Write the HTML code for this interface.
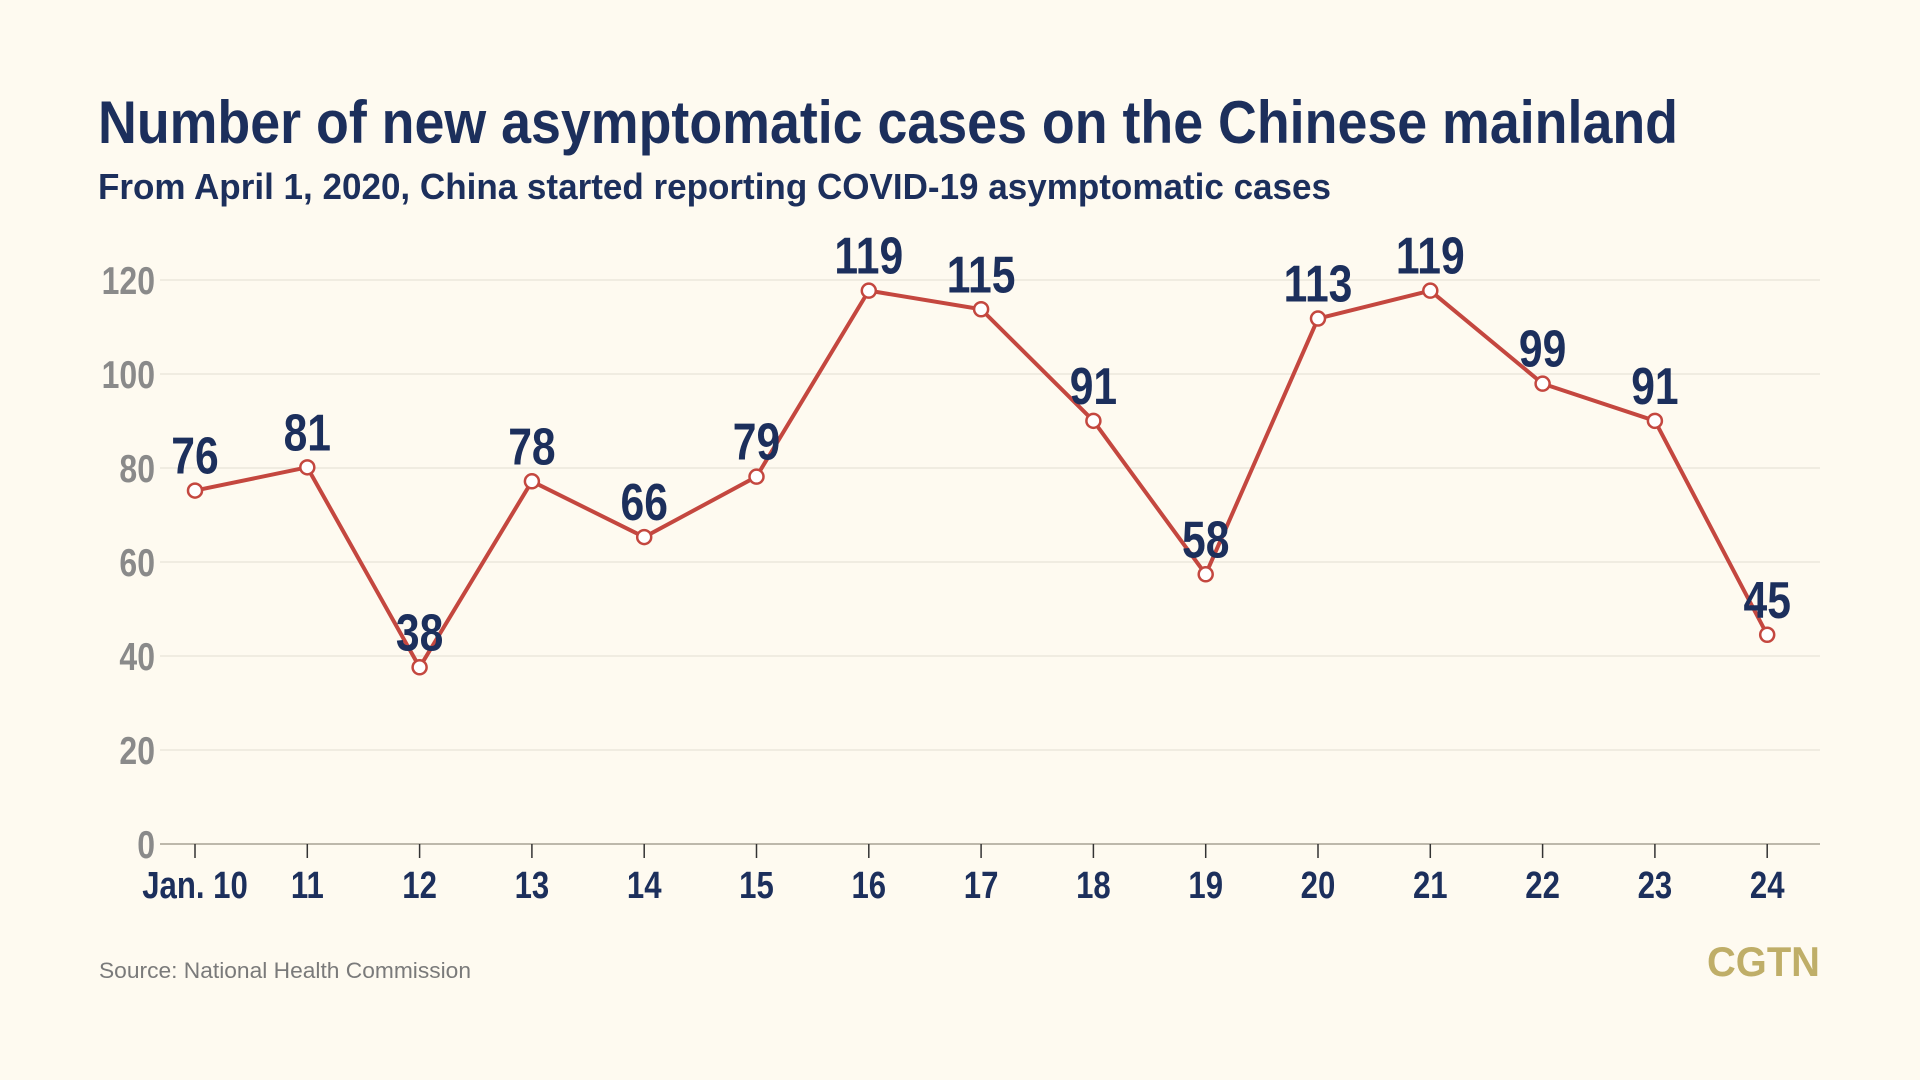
<!DOCTYPE html>
<html><head><meta charset="utf-8"><style>
html,body{margin:0;padding:0;background:#fefaf0;}
svg{display:block;font-family:"Liberation Sans",sans-serif;}
</style></head><body>
<svg width="1920" height="1080" viewBox="0 0 1920 1080" xmlns="http://www.w3.org/2000/svg">
<rect width="1920" height="1080" fill="#fefaf0"/>
<text x="98" y="143" font-size="60" font-weight="bold" fill="#1c2f5c" textLength="1580" lengthAdjust="spacingAndGlyphs">Number of new asymptomatic cases on the Chinese mainland</text>
<text x="98" y="199" font-size="36" font-weight="bold" fill="#1c2f5c" textLength="1233" lengthAdjust="spacingAndGlyphs">From April 1, 2020, China started reporting COVID-19 asymptomatic cases</text>
<g stroke="#ece8dc" stroke-width="1.5">
<line x1="160" x2="1820" y1="280" y2="280"/>
<line x1="160" x2="1820" y1="374" y2="374"/>
<line x1="160" x2="1820" y1="468" y2="468"/>
<line x1="160" x2="1820" y1="562" y2="562"/>
<line x1="160" x2="1820" y1="656" y2="656"/>
<line x1="160" x2="1820" y1="750" y2="750"/>
</g>
<line x1="160" x2="1820" y1="844" y2="844" stroke="#bdb8ab" stroke-width="2"/>
<g fill="#8a8a8a" font-size="39" text-anchor="end" font-weight="bold">
<g transform="translate(155,294) scale(0.82,1)"><text>120</text></g>
<g transform="translate(155,388) scale(0.82,1)"><text>100</text></g>
<g transform="translate(155,482) scale(0.82,1)"><text>80</text></g>
<g transform="translate(155,576) scale(0.82,1)"><text>60</text></g>
<g transform="translate(155,670) scale(0.82,1)"><text>40</text></g>
<g transform="translate(155,764) scale(0.82,1)"><text>20</text></g>
<g transform="translate(155,858) scale(0.82,1)"><text>0</text></g>
</g>
<g id="ticks" stroke="#333" stroke-width="1.5"></g>
<g id="xl" fill="#1c2f5c" font-size="38" font-weight="bold" text-anchor="middle"></g>
<polyline id="line" fill="none" stroke="#c4473f" stroke-width="4" stroke-linejoin="round"/>
<g id="pts" fill="#fff" stroke="#c4473f" stroke-width="2.5"></g>
<g id="dl" fill="#1c2f5c" font-size="52" font-weight="bold" text-anchor="middle"></g>
<text x="99" y="978" font-size="22" fill="#7a7a7a" textLength="372" lengthAdjust="spacingAndGlyphs">Source: National Health Commission</text>
<text x="1707" y="976" font-size="42" font-weight="bold" fill="#bfae68" textLength="113" lengthAdjust="spacingAndGlyphs">CGTN</text>
<script>
var v=[76,81,38,78,66,79,119,115,91,58,113,119,99,91,45];
var lab=["Jan. 10","11","12","13","14","15","16","17","18","19","20","21","22","23","24"];
var ns="http://www.w3.org/2000/svg";
function el(t,a,p){var e=document.createElementNS(ns,t);for(var k in a)e.setAttribute(k,a[k]);document.getElementById(p).appendChild(e);return e;}
var pts=[];
for(var i=0;i<15;i++){
 var x=195+i*112.3, y=844-v[i]*4.65;
 pts.push(x+","+y);
 el("line",{x1:x,x2:x,y1:844,y2:858},"ticks");
 var g=el("g",{transform:"translate("+x+",898) scale(0.82,1)"},"xl");
 var t=document.createElementNS(ns,"text");t.textContent=lab[i];g.appendChild(t);
 el("circle",{cx:x,cy:y,r:7},"pts");
 var g2=el("g",{transform:"translate("+x+","+(y-17)+") scale(0.82,1)"},"dl");
 var t2=document.createElementNS(ns,"text");t2.textContent=v[i];g2.appendChild(t2);
}
document.getElementById("line").setAttribute("points",pts.join(" "));
</script>
</svg>
</body></html>
